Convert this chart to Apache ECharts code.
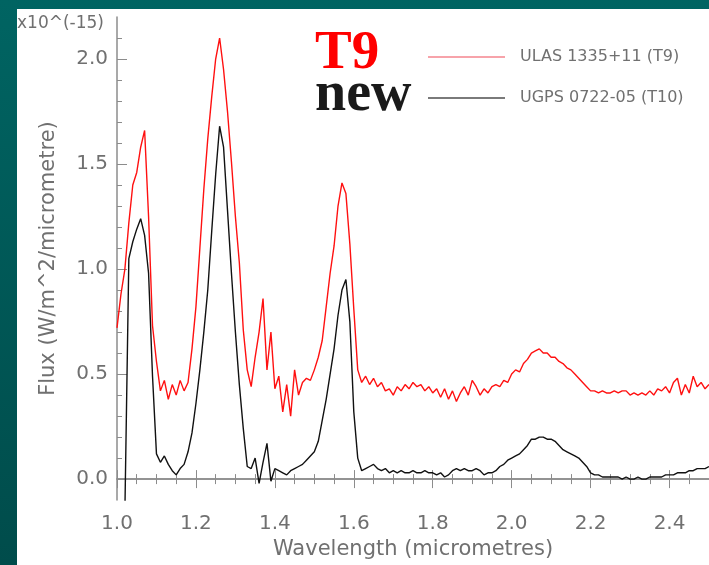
<!DOCTYPE html>
<html>
<head>
<meta charset="UTF-8">
<title>T9 / T10 spectra</title>
<script src="https://cdn.jsdelivr.net/npm/echarts@6/dist/echarts.min.js"></script>
<style>
  html, body { margin: 0; padding: 0; }
  #chart { width: 709px; height: 565px; }
</style>
</head>
<body>
<div id="chart"></div>
<script>
// wavelength in micrometres
var wavelength = [
  1.00,1.01,1.02,1.03,1.04,1.05,1.06,1.07,1.08,1.09,
  1.10,1.11,1.12,1.13,1.14,1.15,1.16,1.17,1.18,1.19,
  1.20,1.21,1.22,1.23,1.24,1.25,1.26,1.27,1.28,1.29,
  1.30,1.31,1.32,1.33,1.34,1.35,1.36,1.37,1.38,1.39,
  1.40,1.41,1.42,1.43,1.44,1.45,1.46,1.47,1.48,1.49,
  1.50,1.51,1.52,1.53,1.54,1.55,1.56,1.57,1.58,1.59,
  1.60,1.61,1.62,1.63,1.64,1.65,1.66,1.67,1.68,1.69,
  1.70,1.71,1.72,1.73,1.74,1.75,1.76,1.77,1.78,1.79,
  1.80,1.81,1.82,1.83,1.84,1.85,1.86,1.87,1.88,1.89,
  1.90,1.91,1.92,1.93,1.94,1.95,1.96,1.97,1.98,1.99,
  2.00,2.01,2.02,2.03,2.04,2.05,2.06,2.07,2.08,2.09,
  2.10,2.11,2.12,2.13,2.14,2.15,2.16,2.17,2.18,2.19,
  2.20,2.21,2.22,2.23,2.24,2.25,2.26,2.27,2.28,2.29,
  2.30,2.31,2.32,2.33,2.34,2.35,2.36,2.37,2.38,2.39,
  2.40,2.41,2.42,2.43,2.44,2.45,2.46,2.47,2.48,2.49,
  2.50
];

// ULAS 1335+11 (T9), flux x10^-15
var fluxT9 = [
  0.72,0.88,1.00,1.22,1.40,1.46,1.58,1.66,1.25,0.73,
  0.56,0.42,0.47,0.38,0.45,0.40,0.47,0.42,0.46,0.62,
  0.82,1.10,1.38,1.62,1.82,2.00,2.10,1.95,1.75,1.51,
  1.25,1.03,0.71,0.52,0.44,0.58,0.70,0.86,0.52,0.70,
  0.43,0.49,0.32,0.45,0.30,0.52,0.40,0.46,0.48,0.47,
  0.52,0.58,0.66,0.82,0.98,1.11,1.30,1.41,1.36,1.12,
  0.81,0.52,0.46,0.49,0.45,0.48,0.44,0.46,0.42,0.43,
  0.40,0.44,0.42,0.45,0.43,0.46,0.44,0.45,0.42,0.44,
  0.41,0.43,0.39,0.43,0.38,0.42,0.37,0.41,0.44,0.40,
  0.47,0.44,0.40,0.43,0.41,0.44,0.45,0.44,0.47,0.46,
  0.50,0.52,0.51,0.55,0.57,0.60,0.61,0.62,0.60,0.60,
  0.58,0.58,0.56,0.55,0.53,0.52,0.50,0.48,0.46,0.44,
  0.42,0.42,0.41,0.42,0.41,0.41,0.42,0.41,0.42,0.42,
  0.40,0.41,0.40,0.41,0.40,0.42,0.40,0.43,0.42,0.44,
  0.41,0.46,0.48,0.40,0.45,0.41,0.49,0.44,0.46,0.43,
  0.45
];

// UGPS 0722-05 (T10), flux x10^-15
var fluxT10 = [
  null,null,-0.15,1.05,1.13,1.19,1.24,1.16,0.98,0.49,
  0.12,0.08,0.11,0.07,0.04,0.02,0.05,0.07,0.13,0.22,
  0.36,0.52,0.70,0.90,1.18,1.45,1.68,1.58,1.28,0.98,
  0.70,0.45,0.24,0.06,0.05,0.10,-0.02,0.08,0.17,-0.01,
  0.05,0.04,0.03,0.02,0.04,0.05,0.06,0.07,0.09,0.11,
  0.13,0.18,0.28,0.38,0.50,0.62,0.78,0.90,0.95,0.75,
  0.32,0.10,0.04,0.05,0.06,0.07,0.05,0.04,0.05,0.03,
  0.04,0.03,0.04,0.03,0.03,0.04,0.03,0.03,0.04,0.03,
  0.03,0.02,0.03,0.01,0.02,0.04,0.05,0.04,0.05,0.04,
  0.04,0.05,0.04,0.02,0.03,0.03,0.04,0.06,0.07,0.09,
  0.10,0.11,0.12,0.14,0.16,0.19,0.19,0.20,0.20,0.19,
  0.19,0.18,0.16,0.14,0.13,0.12,0.11,0.10,0.08,0.06,
  0.03,0.02,0.02,0.01,0.01,0.01,0.01,0.01,0.00,0.01,
  0.00,0.00,0.01,0.00,0.00,0.01,0.01,0.01,0.01,0.02,
  0.02,0.02,0.03,0.03,0.03,0.04,0.04,0.05,0.05,0.05,
  0.06
];

var majorY = [0, 0.5, 1.0, 1.5, 2.0];
var minorY = [0.1,0.2,0.3,0.4,0.6,0.7,0.8,0.9,1.1,1.2,1.3,1.4,1.6,1.7,1.8,1.9,2.1];

var nameT9 = 'ULAS 1335+11 (T9)';
var nameT10 = 'UGPS 0722-05 (T10)';

function pairs(ys) {
  return wavelength.map(function (w, i) { return [w, ys[i]]; });
}

var axisGray = '#8c8c8c';
var textGray = '#707070';
var font = 'DejaVu Sans';

var myChart = echarts.init(document.getElementById('chart'));

var option = {
  animation: false,
  backgroundColor: {
    type: 'linear', x: 0, y: 0, x2: 0, y2: 1,
    colorStops: [{offset: 0, color: '#006462'}, {offset: 1, color: '#004c4b'}]
  },
  graphic: [
    {type: 'rect', z: -100, shape: {x: 17, y: 9, width: 720, height: 600}, style: {fill: '#ffffff'}},
    {type: 'text', left: 17, top: 15, style: {text: 'x10^(-15)', fill: textGray, font: '17px "DejaVu Sans"'}},
    {type: 'text', x: 315, y: 54, style: {text: 'T9', fill: '#ff0000', font: 'bold 55px "Liberation Serif"', verticalAlign: 'middle'}},
    {type: 'text', x: 315, y: 96, style: {text: 'new', fill: '#1a1a1a', font: 'bold 56px "Liberation Serif"', verticalAlign: 'middle'}}
  ],
  legend: {
    orient: 'vertical',
    left: 423,
    top: 44,
    icon: 'rect',
    itemWidth: 77,
    itemHeight: 2,
    itemGap: 25,
    textStyle: {color: textGray, fontSize: 16, fontFamily: font, padding: [0, 0, 0, 10]},
    data: [
      {name: nameT9, itemStyle: {color: '#f7a3aa'}},
      {name: nameT10, itemStyle: {color: '#7a7a7a'}}
    ]
  },
  grid: {left: 117, right: -11, top: 17, bottom: 63},
  xAxis: [
    {
      type: 'value', min: 1.0, max: 2.5, interval: 0.2,
      name: 'Wavelength (micrometres)', nameLocation: 'middle', nameGap: 33,
      nameTextStyle: {color: textGray, fontSize: 21, fontFamily: font},
      axisLine: {lineStyle: {color: axisGray, width: 1.5}},
      axisTick: {inside: true, length: 9, lineStyle: {color: axisGray}},
      minorTick: {show: true, splitNumber: 4, length: 5, lineStyle: {color: axisGray}},
      axisLabel: {color: textGray, fontSize: 20, fontFamily: font, margin: 14, showMaxLabel: false,
        formatter: function (v) { return v.toFixed(1); }},
      splitLine: {show: false}
    },
    {
      type: 'value', position: 'top', min: 1.0, max: 2.5, interval: 0.2,
      axisLine: {lineStyle: {color: axisGray, width: 1.5}},
      axisTick: {inside: true, length: 9, lineStyle: {color: axisGray}},
      minorTick: {show: true, splitNumber: 4, length: 5, lineStyle: {color: axisGray}},
      axisLabel: {show: false},
      splitLine: {show: false}
    }
  ],
  yAxis: [
    {
      type: 'value', min: -0.1, max: 2.2,
      name: 'Flux (W/m^2/micrometre)', nameLocation: 'middle', nameGap: 58,
      nameTextStyle: {color: textGray, fontSize: 21, fontFamily: font},
      axisLine: {show: true, lineStyle: {color: axisGray, width: 1.5}},
      axisTick: {inside: true, length: 10, customValues: majorY, lineStyle: {color: axisGray}},
      axisLabel: {color: textGray, fontSize: 20, fontFamily: font, margin: 9, customValues: majorY,
        formatter: function (v) { return v.toFixed(1); }},
      splitLine: {show: false}
    },
    {
      type: 'value', position: 'left', offset: 0, min: -0.1, max: 2.2,
      axisLine: {show: false},
      axisTick: {show: true, inside: true, length: 5, customValues: minorY, lineStyle: {color: axisGray}},
      axisLabel: {show: false},
      splitLine: {show: false}
    }
  ],
  series: [
    {
      name: nameT9, type: 'line', data: pairs(fluxT9),
      showSymbol: false, color: '#ff1010',
      lineStyle: {width: 1.4, color: '#ff1010'}
    },
    {
      name: nameT10, type: 'line', data: pairs(fluxT10),
      showSymbol: false, color: '#111111',
      lineStyle: {width: 1.4, color: '#111111'}
    }
  ]
};

myChart.setOption(option);
</script>
</body>
</html>
